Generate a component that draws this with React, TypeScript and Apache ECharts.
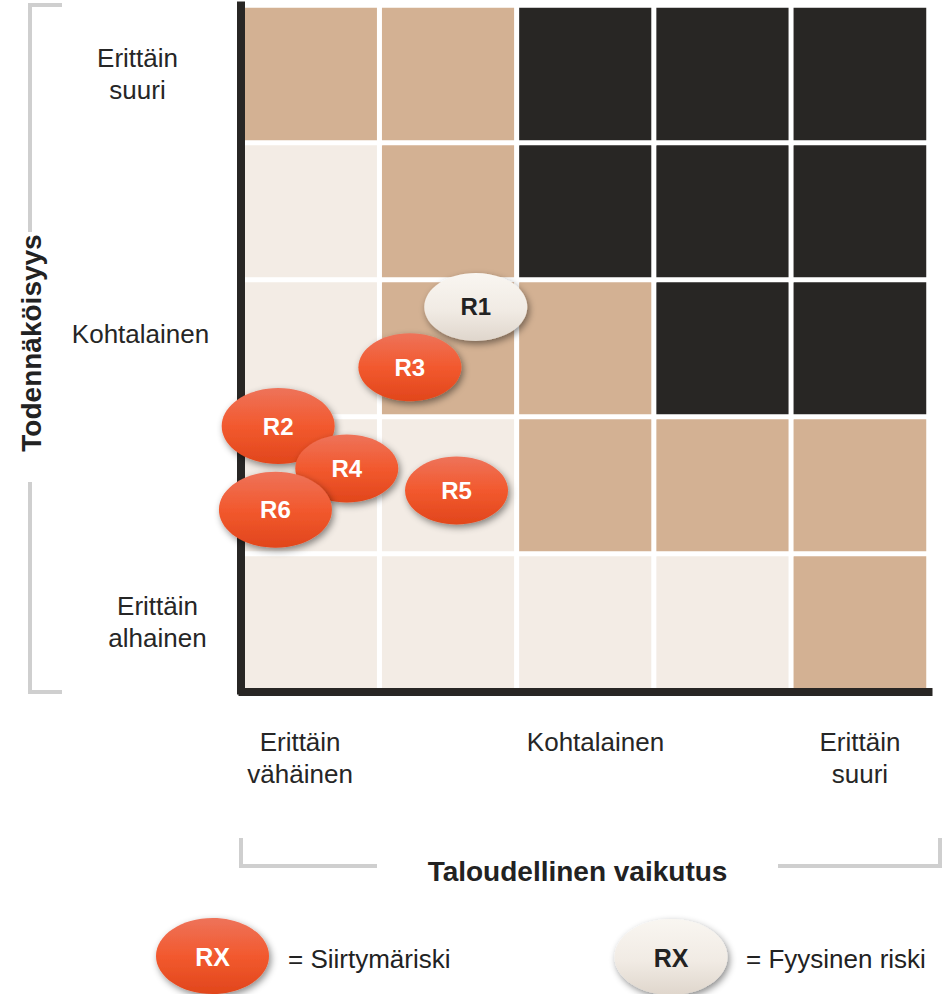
import React, { useEffect, useRef } from "react";
import * as echarts from "echarts";

// Axis categories (x: financial impact, y: likelihood; y from bottom to top)
const impactLabels = ["Erittäin\nvähäinen", "", "Kohtalainen", "", "Erittäin\nsuuri"];
const likelihoodLabels = ["Erittäin\nalhainen", "", "Kohtalainen", "", "Erittäin\nsuuri"];

// Risk level of each cell: 0 = low, 1 = medium, 2 = high (rows from bottom to top)
const levelsRow1 = [0, 0, 0, 0, 1];
const levelsRow2 = [0, 0, 1, 1, 1];
const levelsRow3 = [0, 1, 1, 2, 2];
const levelsRow4 = [0, 1, 2, 2, 2];
const levelsRow5 = [1, 1, 2, 2, 2];
const levelRows = [levelsRow1, levelsRow2, levelsRow3, levelsRow4, levelsRow5];

// Risks positioned on the matrix (x: impact 0..5, y: likelihood 0..5)
const physicalNames = ["R1"];
const physicalX = [1.7];
const physicalY = [2.8];

const transitionNames = ["R3", "R2", "R4", "R6", "R5"];
const transitionX = [1.22, 0.26, 0.76, 0.24, 1.56];
const transitionY = [2.36, 1.93, 1.62, 1.32, 1.46];

// Legend texts
const legendTexts = ["= Siirtymäriski", "= Fyysinen riski"];
const legendMarker = "RX";

const xTitle = "Taloudellinen vaikutus";
const yTitle = "Todennäköisyys";

const FONT = "'Liberation Sans', Arial, sans-serif";
const ELLIPSE =
  "path://M0,50 C0,22.4 22.4,0 50,0 C77.6,0 100,22.4 100,50 C100,77.6 77.6,100 50,100 C22.4,100 0,77.6 0,50 Z";

const orangeFill = () =>
  new echarts.graphic.LinearGradient(0, 0, 0, 1, [
    { offset: 0, color: "#EE735A" },
    { offset: 0.5, color: "#F2592E" },
    { offset: 1, color: "#E1461C" },
  ]);
const lightFill = () =>
  new echarts.graphic.LinearGradient(0, 0, 0, 1, [
    { offset: 0, color: "#F9F6F1" },
    { offset: 0.55, color: "#F1EBE4" },
    { offset: 1, color: "#DFD6CC" },
  ]);

const largeBubbles = ["R2", "R6"];

export default function App() {
  const ref = useRef<HTMLDivElement>(null);

  useEffect(() => {
    if (!ref.current) return;
    const chart = echarts.init(ref.current, null, { renderer: "svg" });

    const heatData: any[] = [];
    levelRows.forEach((row, yi) =>
      row.forEach((lvl, xi) => heatData.push([xi, yi, lvl]))
    );

    const gridRect = {
      left: 242.5,
      top: 5.5,
      width: 686,
      height: 685,
      containLabel: false,
      outerBoundsMode: "none",
    };
    const bracket = { stroke: "#CFCFCF", lineWidth: 4, fill: "none" };
    const shadow = {
      shadowBlur: 7,
      shadowColor: "rgba(0,0,0,0.45)",
      shadowOffsetX: 2,
      shadowOffsetY: 3,
    };

    const bubbleSize = (name: string) =>
      largeBubbles.includes(name) ? [113, 76] : [103, 68];

    const labelBase = { align: "center", fontSize: 26, lineHeight: 32 };
    const axisLineStyle = { show: true, lineStyle: { color: "#282624", width: 8, cap: "square" } };

    const option: any = {
      animation: false,
      backgroundColor: "#ffffff",
      textStyle: { fontFamily: FONT },
      grid: [{ ...gridRect }, { ...gridRect }],
      xAxis: [
        {
          type: "category",
          gridIndex: 0,
          z: 2,
          offset: 1.5,
          data: [
            { value: impactLabels[0], textStyle: { ...labelBase, padding: [0, 22, 0, 0] } },
            impactLabels[1],
            { value: impactLabels[2], textStyle: { ...labelBase, padding: [0, 0, 0, 20] } },
            impactLabels[3],
            { value: impactLabels[4], textStyle: { ...labelBase } },
          ],
          position: "bottom",
          axisLine: axisLineStyle,
          axisTick: { show: false },
          splitLine: { show: false },
          axisLabel: {
            interval: 0,
            margin: 33.5,
            fontSize: 26,
            lineHeight: 32,
            color: "#262626",
            fontFamily: FONT,
            align: "center",
            hideOverlap: false,
          },
          name: xTitle,
          nameLocation: "middle",
          nameGap: 165.5,
          nameMoveOverlap: false,
          nameTextStyle: {
            fontSize: 28,
            fontWeight: "bold",
            color: "#222222",
            fontFamily: FONT,
            padding: [0, 16, 0, 0],
          },
        },
        { type: "value", gridIndex: 1, min: 0, max: 5, show: false },
      ],
      yAxis: [
        {
          type: "category",
          gridIndex: 0,
          z: 2,
          offset: 1.5,
          data: [
            { value: likelihoodLabels[0], textStyle: { ...labelBase, padding: [0, 0, 0, 34] } },
            likelihoodLabels[1],
            {
              value: likelihoodLabels[2],
              textStyle: { ...labelBase, verticalAlign: "bottom", lineHeight: 28 },
            },
            likelihoodLabels[3],
            { value: likelihoodLabels[4], textStyle: { ...labelBase, padding: [0, 6, 0, 0] } },
          ],
          axisLine: axisLineStyle,
          axisTick: { show: false },
          splitLine: { show: false },
          axisLabel: {
            interval: 0,
            margin: 100.5,
            fontSize: 26,
            lineHeight: 32,
            color: "#262626",
            fontFamily: FONT,
            align: "center",
            hideOverlap: false,
          },
          name: yTitle,
          nameLocation: "middle",
          nameRotate: 90,
          nameGap: 195.5,
          nameMoveOverlap: false,
          nameTextStyle: {
            fontSize: 28,
            fontWeight: "bold",
            color: "#222222",
            fontFamily: FONT,
            padding: [0, 0, 0, 10],
          },
        },
        { type: "value", gridIndex: 1, min: 0, max: 5, show: false },
      ],
      visualMap: {
        show: false,
        type: "piecewise",
        seriesIndex: 0,
        dimension: 2,
        pieces: [
          { value: 0, color: "#F3ECE5" },
          { value: 1, color: "#D3B193" },
          { value: 2, color: "#282624" },
        ],
      },
      series: [
        {
          type: "heatmap",
          xAxisIndex: 0,
          yAxisIndex: 0,
          z: 1,
          data: heatData,
          silent: true,
          itemStyle: { borderColor: "#ffffff", borderWidth: 5 },
          label: { show: false },
          emphasis: { disabled: true },
        },
        {
          type: "scatter",
          name: "Fyysinen riski",
          xAxisIndex: 1,
          yAxisIndex: 1,
          z: 3,
          symbol: ELLIPSE,
          silent: true,
          data: physicalNames.map((n, i) => ({
            name: n,
            value: [physicalX[i], physicalY[i]],
            symbolSize: bubbleSize(n),
          })),
          itemStyle: { color: lightFill(), opacity: 1, ...shadow },
          label: {
            show: true,
            position: "inside",
            formatter: "{b}",
            fontSize: 24,
            fontWeight: "bold",
            color: "#222222",
            fontFamily: FONT,
          },
        },
        {
          type: "scatter",
          name: "Siirtymäriski",
          xAxisIndex: 1,
          yAxisIndex: 1,
          z: 3,
          symbol: ELLIPSE,
          silent: true,
          data: transitionNames.map((n, i) => ({
            name: n,
            value: [transitionX[i], transitionY[i]],
            symbolSize: bubbleSize(n),
          })),
          itemStyle: { color: orangeFill(), opacity: 1, ...shadow },
          label: {
            show: true,
            position: "inside",
            formatter: "{b}",
            fontSize: 24,
            fontWeight: "bold",
            color: "#ffffff",
            fontFamily: FONT,
          },
        },
      ],
      graphic: [
        // likelihood bracket
        { type: "polyline", shape: { points: [[62, 5], [30, 5], [30, 232]] }, style: bracket, silent: true },
        { type: "polyline", shape: { points: [[30, 482], [30, 692], [62, 692]] }, style: bracket, silent: true },
        // impact bracket
        { type: "polyline", shape: { points: [[241, 838], [241, 866], [377, 866]] }, style: bracket, silent: true },
        { type: "polyline", shape: { points: [[778, 866], [940, 866], [940, 838]] }, style: bracket, silent: true },
        // legend
        {
          type: "ellipse",
          shape: { cx: 212.5, cy: 956, rx: 56.5, ry: 38 },
          style: { fill: orangeFill(), ...shadow },
          silent: true,
        },
        {
          type: "text",
          x: 212.5,
          y: 957,
          style: {
            text: legendMarker,
            fill: "#ffffff",
            fontSize: 25,
            fontWeight: "bold",
            fontFamily: FONT,
            align: "center",
            verticalAlign: "middle",
            textAlign: "center",
            textVerticalAlign: "middle",
          },
          silent: true,
        },
        {
          type: "text",
          x: 288,
          y: 959,
          style: {
            text: legendTexts[0],
            fill: "#222222",
            fontSize: 26,
            fontFamily: FONT,
            align: "left",
            verticalAlign: "middle",
            textAlign: "left",
            textVerticalAlign: "middle",
          },
          silent: true,
        },
        {
          type: "ellipse",
          shape: { cx: 671, cy: 957, rx: 56.5, ry: 38 },
          style: { fill: lightFill(), ...shadow },
          silent: true,
        },
        {
          type: "text",
          x: 671,
          y: 958,
          style: {
            text: legendMarker,
            fill: "#222222",
            fontSize: 25,
            fontWeight: "bold",
            fontFamily: FONT,
            align: "center",
            verticalAlign: "middle",
            textAlign: "center",
            textVerticalAlign: "middle",
          },
          silent: true,
        },
        {
          type: "text",
          x: 746,
          y: 959,
          style: {
            text: legendTexts[1],
            fill: "#222222",
            fontSize: 26,
            fontFamily: FONT,
            align: "left",
            verticalAlign: "middle",
            textAlign: "left",
            textVerticalAlign: "middle",
          },
          silent: true,
        },
      ],
    };

    chart.setOption(option);
    return () => chart.dispose();
  }, []);

  return (
    <div
      ref={ref}
      style={{ position: "absolute", left: 0, top: 0, width: 951, height: 994 }}
    />
  );
}
